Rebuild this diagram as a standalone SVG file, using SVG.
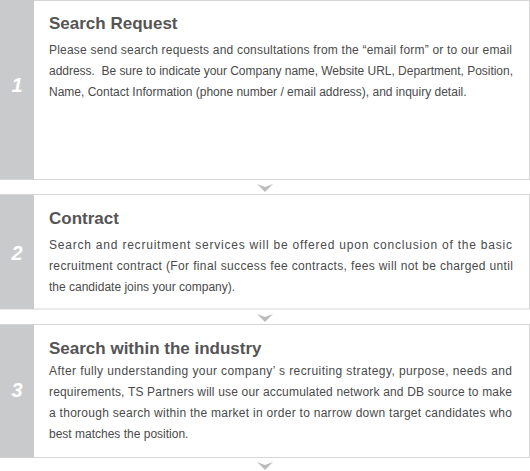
<svg xmlns="http://www.w3.org/2000/svg" width="530" height="471" viewBox="0 0 530 471">
<defs>
<style>
.box{fill:#fff;stroke:#d6d6d6;stroke-width:1}
.bar{fill:#c9cacb}
.num{font-family:"Liberation Sans",Arial,sans-serif;font-size:20px;font-weight:bold;font-style:italic;fill:#fff;text-anchor:middle}
.title{font-family:"Liberation Sans",Arial,sans-serif;font-size:17px;font-weight:bold;fill:#555}
.body{font-family:"Liberation Sans",Arial,sans-serif;font-size:12px;fill:#4a4a4a}
.arrow{fill:#bcbcbc}
</style>
</defs>
<g id="step1">
<rect class="box" x="0.5" y="0.5" width="529" height="179"/>
<rect class="bar" x="0" y="0" width="34" height="179"/>
<text class="num" x="17" y="92">1</text>
<text class="title" x="49" y="29">Search Request</text>
<text class="body" x="49" y="54" textLength="463" lengthAdjust="spacing">Please send search requests and consultations from the “email form” or to our email</text>
<text class="body" x="49" y="75" textLength="464" lengthAdjust="spacing" xml:space="preserve">address.  Be sure to indicate your Company name, Website URL, Department, Position,</text>
<text class="body" x="49" y="96">Name, Contact Information (phone number / email address), and inquiry detail.</text>
</g>
<g id="step2">
<rect class="box" x="0.5" y="194.5" width="529" height="114.5"/>
<rect class="bar" x="0" y="195" width="34" height="114"/>
<text class="num" x="17" y="260">2</text>
<text class="title" x="49" y="224">Contract</text>
<text class="body" x="49" y="249" textLength="463" lengthAdjust="spacing">Search and recruitment services will be offered upon conclusion of the basic</text>
<text class="body" x="49" y="270" textLength="464" lengthAdjust="spacing">recruitment contract (For final success fee contracts, fees will not be charged until</text>
<text class="body" x="49" y="291">the candidate joins your company).</text>
</g>
<g id="step3">
<rect class="box" x="0.5" y="324.5" width="529" height="133"/>
<rect class="bar" x="0" y="325" width="34" height="132.5"/>
<text class="num" x="17" y="397">3</text>
<text class="title" x="49" y="354">Search within the industry</text>
<text class="body" x="49" y="375" textLength="463" lengthAdjust="spacing">After fully understanding your company’ s recruiting strategy, purpose, needs and</text>
<text class="body" x="49" y="396" textLength="463" lengthAdjust="spacing">requirements, TS Partners will use our accumulated network and DB source to make</text>
<text class="body" x="49" y="417" textLength="463" lengthAdjust="spacing">a thorough search within the market in order to narrow down target candidates who</text>
<text class="body" x="49" y="438">best matches the position.</text>
</g>
<g id="connectors">
<polygon class="arrow" points="257,184 265,187 273,184 265,192"/>
<polygon class="arrow" points="257,314 265,317 273,314 265,322"/>
<polygon class="arrow" points="257,462 265,465 273,462 265,470"/>
</g>
</svg>
